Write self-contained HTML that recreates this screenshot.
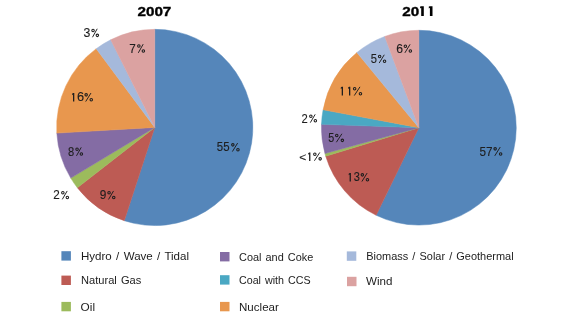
<!DOCTYPE html>
<html><head><meta charset="utf-8"><style>
html,body{margin:0;padding:0;background:#fff;width:580px;height:317px;overflow:hidden}
svg{display:block;will-change:transform}
text{font-family:"Liberation Sans",sans-serif;fill:#1c1c1c}
.lb{fill:#1e1e1e;stroke:#1e1e1e;stroke-width:0.12px}
.tt{fill:#000;stroke:#000;stroke-width:0.35px}
.pc{fill:none;stroke:#1e1e1e;stroke-width:1.05}
.pl{fill:none;stroke:#1e1e1e;stroke-width:0.95}
</style></head><body>
<svg width="580" height="317" viewBox="0 0 580 317">
<text class="tt" transform="translate(137.43,15.98) scale(1.1374,1.0000)" font-size="13.4" font-weight="bold">2007</text>
<text class="tt" transform="translate(402.23,15.77) scale(1.1387,1.0105)" font-size="13.4" font-weight="bold">20</text>
<path d="M421.20,15.90 L421.20,7.70 L420.10,8.47 L420.10,6.62 L421.30,6.30 L423.80,6.30 L423.80,15.90 Z" fill="#000"/><path d="M429.90,15.90 L429.90,7.70 L428.80,8.47 L428.80,6.62 L430.00,6.30 L432.50,6.30 L432.50,15.90 Z" fill="#000"/>
<path d="M154.75,127.45 L154.75,29.35 A98.1,98.1 0 1 1 124.27,220.70 Z" fill="#5586BA" stroke="#5586BA" stroke-width="0.5" stroke-linejoin="round"/>
<path d="M154.75,127.45 L124.27,220.70 A98.1,98.1 0 0 1 77.34,187.71 Z" fill="#BD5B54" stroke="#BD5B54" stroke-width="0.5" stroke-linejoin="round"/>
<path d="M154.75,127.45 L77.34,187.71 A98.1,98.1 0 0 1 70.75,178.12 Z" fill="#9CBB5C" stroke="#9CBB5C" stroke-width="0.5" stroke-linejoin="round"/>
<path d="M154.75,127.45 L70.75,178.12 A98.1,98.1 0 0 1 56.81,133.10 Z" fill="#846CA4" stroke="#846CA4" stroke-width="0.5" stroke-linejoin="round"/>
<path d="M154.75,127.45 L56.81,133.10 A98.1,98.1 0 0 1 96.26,48.69 Z" fill="#E8974E" stroke="#E8974E" stroke-width="0.5" stroke-linejoin="round"/>
<path d="M154.75,127.45 L96.26,48.69 A98.1,98.1 0 0 1 110.67,39.81 Z" fill="#A5B9DB" stroke="#A5B9DB" stroke-width="0.5" stroke-linejoin="round"/>
<path d="M154.75,127.45 L110.67,39.81 A98.1,98.1 0 0 1 154.75,29.35 Z" fill="#DBA2A1" stroke="#DBA2A1" stroke-width="0.5" stroke-linejoin="round"/>
<path d="M418.85,127.70 L418.85,30.30 A97.4,97.4 0 1 1 376.15,215.24 Z" fill="#5586BA" stroke="#5586BA" stroke-width="0.5" stroke-linejoin="round"/>
<path d="M418.85,127.70 L376.15,215.24 A97.4,97.4 0 0 1 325.71,156.18 Z" fill="#BD5B54" stroke="#BD5B54" stroke-width="0.5" stroke-linejoin="round"/>
<path d="M418.85,127.70 L325.71,156.18 A97.4,97.4 0 0 1 324.95,153.57 Z" fill="#9CBB5C" stroke="#9CBB5C" stroke-width="0.5" stroke-linejoin="round"/>
<path d="M418.85,127.70 L324.95,153.57 A97.4,97.4 0 0 1 321.51,124.30 Z" fill="#846CA4" stroke="#846CA4" stroke-width="0.5" stroke-linejoin="round"/>
<path d="M418.85,127.70 L321.51,124.30 A97.4,97.4 0 0 1 323.11,109.78 Z" fill="#4AA8C3" stroke="#4AA8C3" stroke-width="0.5" stroke-linejoin="round"/>
<path d="M418.85,127.70 L323.11,109.78 A97.4,97.4 0 0 1 356.90,52.54 Z" fill="#E8974E" stroke="#E8974E" stroke-width="0.5" stroke-linejoin="round"/>
<path d="M418.85,127.70 L356.90,52.54 A97.4,97.4 0 0 1 384.74,36.47 Z" fill="#A5B9DB" stroke="#A5B9DB" stroke-width="0.5" stroke-linejoin="round"/>
<path d="M418.85,127.70 L384.74,36.47 A97.4,97.4 0 0 1 418.85,30.30 Z" fill="#DBA2A1" stroke="#DBA2A1" stroke-width="0.5" stroke-linejoin="round"/>
<text class="lb" transform="translate(216.81,151.47) scale(0.9853,1.0585)" font-size="11.6">55</text>
<circle cx="232.85" cy="144.85" r="1.25" class="pc"/><circle cx="237.95" cy="149.65" r="1.25" class="pc"/><line x1="237.64" y1="143.05" x2="232.39" y2="151.55" class="pl"/>
<text class="lb" transform="translate(99.79,199.37) scale(1.0233,1.0424)" font-size="11.6">9</text>
<circle cx="109.05" cy="192.75" r="1.25" class="pc"/><circle cx="113.75" cy="197.55" r="1.25" class="pc"/><line x1="113.53" y1="190.95" x2="108.53" y2="199.45" class="pl"/>
<text class="lb" transform="translate(53.27,199.40) scale(1.0095,1.0462)" font-size="11.6">2</text>
<circle cx="62.85" cy="192.75" r="1.25" class="pc"/><circle cx="67.35" cy="197.45" r="1.25" class="pc"/><line x1="67.18" y1="190.95" x2="62.30" y2="199.35" class="pl"/>
<text class="lb" transform="translate(68.02,155.77) scale(0.9636,1.0424)" font-size="11.6">8</text>
<circle cx="77.05" cy="149.15" r="1.25" class="pc"/><circle cx="81.35" cy="153.95" r="1.25" class="pc"/><line x1="81.23" y1="147.35" x2="76.47" y2="155.85" class="pl"/>
<path d="M73.00,101.60 L73.00,94.50 L72.10,95.13 L72.10,93.69 L73.10,93.00 L74.30,93.00 L74.30,101.60 Z" fill="#1e1e1e"/>
<text class="lb" transform="translate(77.01,101.47) scale(1.1048,1.0424)" font-size="11.6">6</text>
<circle cx="86.15" cy="94.85" r="1.25" class="pc"/><circle cx="91.25" cy="99.65" r="1.25" class="pc"/><line x1="90.94" y1="93.05" x2="85.69" y2="101.55" class="pl"/>
<text class="lb" transform="translate(83.57,37.17) scale(1.0605,1.0424)" font-size="11.6">3</text>
<circle cx="93.05" cy="30.55" r="1.25" class="pc"/><circle cx="97.35" cy="35.35" r="1.25" class="pc"/><line x1="97.23" y1="28.75" x2="92.47" y2="37.25" class="pl"/>
<text class="lb" transform="translate(129.27,52.90) scale(1.0095,1.1000)" font-size="11.6">7</text>
<circle cx="138.85" cy="45.95" r="1.25" class="pc"/><circle cx="143.35" cy="50.95" r="1.25" class="pc"/><line x1="143.18" y1="44.15" x2="138.30" y2="52.85" class="pl"/>
<text class="lb" transform="translate(479.59,155.76) scale(1.0128,1.0954)" font-size="11.6">57</text>
<circle cx="495.15" cy="148.85" r="1.25" class="pc"/><circle cx="500.65" cy="153.95" r="1.25" class="pc"/><line x1="500.24" y1="147.05" x2="494.75" y2="155.85" class="pl"/>
<path d="M349.60,181.60 L349.60,174.50 L348.70,175.13 L348.70,173.69 L349.70,173.00 L350.90,173.00 L350.90,181.60 Z" fill="#1e1e1e"/>
<text class="lb" transform="translate(353.63,181.47) scale(0.9488,1.0424)" font-size="11.6">3</text>
<circle cx="362.35" cy="174.85" r="1.25" class="pc"/><circle cx="367.45" cy="179.65" r="1.25" class="pc"/><line x1="367.14" y1="173.05" x2="361.89" y2="181.55" class="pl"/>
<text class="lb" transform="translate(299.36,160.63) scale(1.0311,0.9532)" font-size="11.6">&lt;</text>
<path d="M309.10,160.90 L309.10,154.10 L308.20,154.73 L308.20,153.29 L309.20,152.60 L310.40,152.60 L310.40,160.90 Z" fill="#1e1e1e"/>
<circle cx="314.85" cy="154.25" r="1.25" class="pc"/><circle cx="320.15" cy="158.85" r="1.25" class="pc"/><line x1="319.79" y1="152.45" x2="314.42" y2="160.75" class="pl"/>
<text class="lb" transform="translate(328.24,142.17) scale(0.9273,1.0585)" font-size="11.6">5</text>
<circle cx="336.75" cy="135.55" r="1.25" class="pc"/><circle cx="342.35" cy="140.35" r="1.25" class="pc"/><line x1="341.92" y1="133.75" x2="336.37" y2="142.25" class="pl"/>
<text class="lb" transform="translate(301.49,122.70) scale(0.9714,1.0338)" font-size="11.6">2</text>
<circle cx="310.85" cy="116.15" r="1.25" class="pc"/><circle cx="315.35" cy="120.75" r="1.25" class="pc"/><line x1="315.18" y1="114.35" x2="310.30" y2="122.65" class="pl"/>
<path d="M341.70,95.60 L341.70,88.30 L340.80,88.93 L340.80,87.49 L341.80,86.80 L343.00,86.80 L343.00,95.60 Z" fill="#1e1e1e"/>
<path d="M349.00,95.60 L349.00,88.30 L348.10,88.93 L348.10,87.49 L349.10,86.80 L350.30,86.80 L350.30,95.60 Z" fill="#1e1e1e"/>
<circle cx="354.65" cy="88.65" r="1.25" class="pc"/><circle cx="360.45" cy="93.65" r="1.25" class="pc"/><line x1="359.97" y1="86.85" x2="354.29" y2="95.55" class="pl"/>
<text class="lb" transform="translate(370.82,62.97) scale(0.9636,1.0338)" font-size="11.6">5</text>
<circle cx="379.65" cy="56.55" r="1.25" class="pc"/><circle cx="384.55" cy="61.15" r="1.25" class="pc"/><line x1="384.28" y1="54.75" x2="379.16" y2="63.05" class="pl"/>
<text class="lb" transform="translate(396.25,52.77) scale(1.0476,1.0424)" font-size="11.6">6</text>
<circle cx="405.35" cy="46.15" r="1.25" class="pc"/><circle cx="410.35" cy="50.95" r="1.25" class="pc"/><line x1="410.06" y1="44.35" x2="404.88" y2="52.85" class="pl"/>
<rect x="61.4" y="251.2" width="9.5" height="9.4" fill="#5586BA"/>
<text transform="translate(81.0,259.9) scale(1,1.1)" font-size="10.3" word-spacing="1.0" textLength="108.0" lengthAdjust="spacingAndGlyphs">Hydro / Wave / Tidal</text>
<rect x="61.4" y="275.6" width="9.5" height="9.4" fill="#BD5B54"/>
<text transform="translate(81.0,284.0) scale(1,1.1)" font-size="10.3" word-spacing="1.0" textLength="60.3" lengthAdjust="spacingAndGlyphs">Natural Gas</text>
<rect x="61.4" y="301.9" width="9.5" height="9.4" fill="#9CBB5C"/>
<text transform="translate(80.6,310.7) scale(1,1.1)" font-size="10.3" word-spacing="1.0" textLength="14.4" lengthAdjust="spacingAndGlyphs">Oil</text>
<rect x="220.0" y="252.0" width="9.5" height="9.4" fill="#846CA4"/>
<text transform="translate(239.0,260.6) scale(1,1.1)" font-size="10.3" word-spacing="1.0" textLength="74.3" lengthAdjust="spacingAndGlyphs">Coal and Coke</text>
<rect x="220.0" y="275.2" width="9.5" height="9.4" fill="#4AA8C3"/>
<text transform="translate(239.0,283.9) scale(1,1.1)" font-size="10.3" word-spacing="1.0" textLength="71.6" lengthAdjust="spacingAndGlyphs">Coal with CCS</text>
<rect x="220.0" y="301.9" width="9.5" height="9.4" fill="#E8974E"/>
<text transform="translate(239.0,310.9) scale(1,1.1)" font-size="10.3" word-spacing="1.0" textLength="39.9" lengthAdjust="spacingAndGlyphs">Nuclear</text>
<rect x="346.8" y="251.4" width="9.5" height="9.4" fill="#A5B9DB"/>
<text transform="translate(366.2,260.0) scale(1,1.1)" font-size="10.3" word-spacing="1.0" textLength="147.4" lengthAdjust="spacingAndGlyphs">Biomass / Solar / Geothermal</text>
<rect x="347.0" y="276.8" width="9.5" height="9.4" fill="#DBA2A1"/>
<text transform="translate(366.0,285.1) scale(1,1.1)" font-size="10.3" word-spacing="1.0" textLength="26.4" lengthAdjust="spacingAndGlyphs">Wind</text>
</svg>
</body></html>
